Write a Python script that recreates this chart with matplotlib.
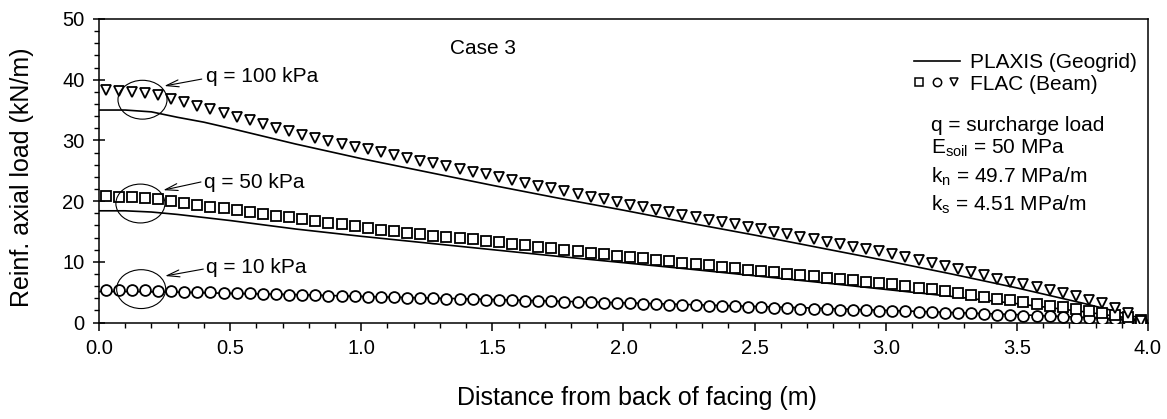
import numpy as np
import matplotlib
matplotlib.use("Agg")
import matplotlib.pyplot as plt
from matplotlib.patches import Ellipse
from matplotlib.legend_handler import HandlerTuple

plt.rcParams['font.family'] = ['Liberation Sans', 'DejaVu Sans']
plt.rcParams['mathtext.fontset'] = 'custom'
plt.rcParams['mathtext.rm'] = 'Liberation Sans'
plt.rcParams['mathtext.it'] = 'Liberation Sans:italic'

# FLAC (Beam) node positions (m)
x_flac = [0.025, 0.075, 0.125, 0.175, 0.225, 0.275, 0.325, 0.375, 0.425, 0.475,
          0.525, 0.575, 0.625, 0.675, 0.725, 0.775, 0.825, 0.875, 0.925, 0.975,
          1.025, 1.075, 1.125, 1.175, 1.225, 1.275, 1.325, 1.375, 1.425, 1.475,
          1.525, 1.575, 1.625, 1.675, 1.725, 1.775, 1.825, 1.875, 1.925, 1.975,
          2.025, 2.075, 2.125, 2.175, 2.225, 2.275, 2.325, 2.375, 2.425, 2.475,
          2.525, 2.575, 2.625, 2.675, 2.725, 2.775, 2.825, 2.875, 2.925, 2.975,
          3.025, 3.075, 3.125, 3.175, 3.225, 3.275, 3.325, 3.375, 3.425, 3.475,
          3.525, 3.575, 3.625, 3.675, 3.725, 3.775, 3.825, 3.875, 3.925, 3.975]

flac_q100 = [38.3, 38.2, 38.0, 37.8, 37.5, 36.9, 36.3, 35.7, 35.1, 34.5,
             33.9, 33.3, 32.7, 32.1, 31.5, 30.9, 30.35, 29.85, 29.4, 28.95,
             28.5, 28.05, 27.6, 27.1, 26.65, 26.2, 25.75, 25.3, 24.85, 24.4,
             23.95, 23.5, 23.0, 22.55, 22.1, 21.65, 21.2, 20.75, 20.3, 19.85,
             19.4, 19.0, 18.6, 18.2, 17.75, 17.35, 16.95, 16.55, 16.15, 15.75,
             15.35, 14.95, 14.55, 14.15, 13.75, 13.3, 12.9, 12.5, 12.1, 11.7,
             11.3, 10.8, 10.3, 9.8, 9.3, 8.75, 8.25, 7.75, 7.2, 6.7,
             6.4, 5.9, 5.35, 4.9, 4.35, 3.7, 3.15, 2.35, 1.6, 0.3]

flac_q50 = [20.8, 20.7, 20.6, 20.5, 20.3, 20.0, 19.7, 19.4, 19.1, 18.8,
            18.5, 18.2, 17.9, 17.6, 17.3, 17.05, 16.75, 16.45, 16.15, 15.9,
            15.6, 15.3, 15.0, 14.8, 14.55, 14.3, 14.1, 13.9, 13.7, 13.45,
            13.2, 13.0, 12.75, 12.5, 12.25, 12.0, 11.7, 11.5, 11.25, 11.0,
            10.8, 10.55, 10.3, 10.1, 9.85, 9.6, 9.4, 9.15, 8.95, 8.7,
            8.5, 8.25, 8.05, 7.8, 7.6, 7.4, 7.15, 6.95, 6.75, 6.55,
            6.35, 6.05, 5.75, 5.45, 5.15, 4.85, 4.55, 4.25, 3.95, 3.7,
            3.4, 3.1, 2.8, 2.5, 2.2, 1.9, 1.6, 1.25, 0.9, 0.4]

flac_q10 = [5.4, 5.4, 5.35, 5.3, 5.25, 5.15, 5.1, 5.05, 4.95, 4.9,
            4.85, 4.8, 4.7, 4.65, 4.6, 4.55, 4.45, 4.4, 4.35, 4.3,
            4.25, 4.2, 4.15, 4.1, 4.05, 4.0, 3.9, 3.85, 3.8, 3.75,
            3.7, 3.65, 3.6, 3.55, 3.5, 3.45, 3.4, 3.35, 3.25, 3.2,
            3.15, 3.1, 3.05, 2.95, 2.9, 2.85, 2.8, 2.7, 2.65, 2.6,
            2.5, 2.45, 2.4, 2.3, 2.25, 2.2, 2.1, 2.05, 2.0, 1.95,
            1.9, 1.85, 1.75, 1.7, 1.6, 1.55, 1.5, 1.4, 1.3, 1.25,
            1.15, 1.05, 1.0, 0.9, 0.8, 0.75, 0.65, 0.55, 0.45, 0.3]

# PLAXIS (Geogrid)
x_plaxis = [0.0, 0.1, 0.2, 0.3, 0.4, 0.5, 0.75, 1.0, 1.25, 1.5, 1.75,
            2.0, 2.25, 2.5, 2.75, 3.0, 3.25, 3.5, 3.75, 3.9, 4.0]
plaxis_q100 = [35.0, 35.0, 34.7, 33.8, 33.0, 32.0, 29.4, 27.0, 24.8, 22.6, 20.5,
               18.5, 16.4, 14.4, 12.3, 10.2, 8.0, 5.7, 3.2, 1.6, 0.3]
plaxis_q50 = [18.4, 18.4, 18.2, 17.8, 17.3, 16.8, 15.4, 14.2, 13.1, 12.0, 10.9,
              9.85, 8.8, 7.7, 6.6, 5.45, 4.3, 3.1, 1.8, 0.9, 0.2]
plaxis_q10 = [5.1, 5.1, 5.05, 5.0, 4.9, 4.8, 4.6, 4.3, 4.05, 3.8, 3.5,
              3.25, 2.95, 2.65, 2.35, 2.0, 1.65, 1.3, 0.85, 0.5, 0.1]

# q labels: (text, ellipse centre, arrow tail, arrow tip)
q_labels = ['q = 100 kPa', 'q = 50 kPa', 'q = 10 kPa']
ell_centre = [(0.166, 36.7), (0.158, 19.6), (0.161, 5.5)]
arrow_tail = [(0.392, 40.1), (0.389, 23.15), (0.398, 8.8)]
arrow_tip = [(0.249, 38.96), (0.245, 21.8), (0.252, 7.66)]
text_pos = [(0.41, 40.5), (0.40, 23.0), (0.41, 9.1)]

fig = plt.figure(figsize=(11.67, 4.19), dpi=100)
ax = fig.add_axes([0.0848, 0.2303, 0.8989, 0.7244])

for yv in [plaxis_q100, plaxis_q50, plaxis_q10]:
    ax.plot(x_plaxis, yv, color='black', lw=1.2, zorder=2)

mk = dict(ls='none', mfc='white', mec='black', mew=1.3, zorder=3)
ax.plot(x_flac, flac_q10, marker='o', ms=7.8, **mk)
ax.plot(x_flac, flac_q50, marker='s', ms=7.0, **mk)
ax.plot(x_flac, flac_q100, marker='v', ms=7.8, **mk)

for i in range(3):
    ax.add_patch(Ellipse(ell_centre[i], 0.187, 6.4, fill=False, lw=0.8,
                         ec='black', zorder=4))
    ax.annotate('', xy=arrow_tip[i], xytext=arrow_tail[i],
                arrowprops=dict(arrowstyle='->,head_length=0.9,head_width=0.25',
                                lw=0.8, color='black', shrinkA=0, shrinkB=0))
    ax.text(text_pos[i][0], text_pos[i][1], q_labels[i], fontsize=15,
            va='center', ha='left')

ax.text(1.465, 45.1, 'Case 3', fontsize=15, ha='center', va='center')

ax.text(3.172, 32.4, 'q = surcharge load', fontsize=15, va='center')
ax.text(3.172, 28.75, r'E$_{\rm soil}$ = 50 MPa', fontsize=15, va='center')
ax.text(3.172, 24.0, r'k$_{\rm n}$ = 49.7 MPa/m', fontsize=15, va='center')
ax.text(3.172, 19.35, r'k$_{\rm s}$ = 4.51 MPa/m', fontsize=15, va='center')

# legend
h_line, = ax.plot([], [], color='black', lw=1.2)
h_s, = ax.plot([], [], marker='s', ls='none', ms=5.5, mfc='white', mec='black', mew=1.1)
h_o, = ax.plot([], [], marker='o', ls='none', ms=6, mfc='white', mec='black', mew=1.1)
h_v, = ax.plot([], [], marker='v', ls='none', ms=6, mfc='white', mec='black', mew=1.1)
ax.legend([h_line, (h_s, h_o, h_v)], ['PLAXIS (Geogrid)', 'FLAC (Beam)'],
          handler_map={tuple: HandlerTuple(ndivide=None, pad=0.3)},
          loc='upper right', bbox_to_anchor=(0.9895, 0.887), frameon=False,
          fontsize=15, borderpad=0, borderaxespad=0, handlelength=2.2,
          handletextpad=0.5, labelspacing=0.12)

ax.set_xlim(0, 4)
ax.set_ylim(0, 50)
ax.set_xticks(np.arange(0, 4.01, 0.5))
ax.set_xticks(np.arange(0, 4.01, 0.1), minor=True)
ax.set_yticks(np.arange(0, 51, 10))
ax.set_yticks(np.arange(0, 51, 2), minor=True)
ax.xaxis.set_major_formatter(plt.FormatStrFormatter('%.1f'))
ax.tick_params(which='major', direction='out', length=6, width=1.1,
               labelsize=14.5, pad=6)
ax.tick_params(axis='y', which='major', direction='inout', length=9)
ax.tick_params(which='minor', direction='out', length=3.5, width=1.0)
for s in ax.spines.values():
    s.set_linewidth(1.1)

ax.set_xlabel('Distance from back of facing (m)', fontsize=18)
ax.set_ylabel('Reinf. axial load (kN/m)', fontsize=18)
ax.xaxis.set_label_coords(0.513, -0.21)
ax.yaxis.set_label_coords(-0.062, 0.48)

fig.savefig('out.png', dpi=100)
